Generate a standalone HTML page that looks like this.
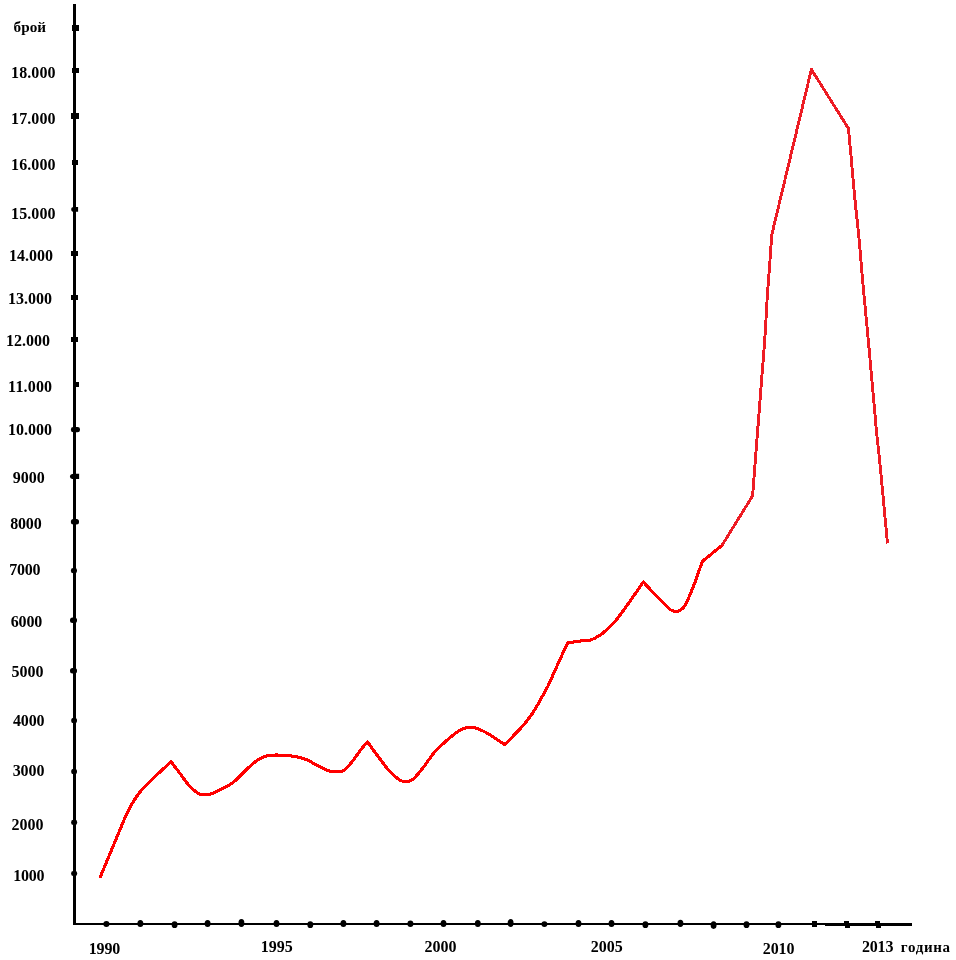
<!DOCTYPE html>
<html lang="bg">
<head>
<meta charset="utf-8">
<title>брой / година</title>
<style>
html,body{margin:0;padding:0;background:#fff;}
body{width:956px;height:960px;overflow:hidden;position:relative;}
svg{position:absolute;left:0;top:0;display:block;}
text{font-family:"Liberation Serif","DejaVu Serif",serif;font-weight:bold;fill:#000;}
</style>
</head>
<body>
<svg width="956" height="960" viewBox="0 0 956 960">
<rect width="956" height="960" fill="#ffffff"/>
<g id="axes" fill="#000" shape-rendering="crispEdges">
<rect x="73" y="4" width="3" height="921"/>
<rect x="73" y="923" width="753" height="2"/>
<rect x="825" y="923" width="87" height="3"/>
</g>
<g id="yticks" fill="#000">
<rect x="72.0" y="25.0" width="7.0" height="6.0" shape-rendering="crispEdges"/>
<rect x="72.2" y="68.2" width="6.6" height="5.0" shape-rendering="crispEdges"/>
<rect x="71.0" y="113.0" width="8.0" height="6.0" shape-rendering="crispEdges"/>
<rect x="72.2" y="160.0" width="5.9" height="5.0" shape-rendering="crispEdges"/>
<path d="M74 207.0H78.1V211.8H74A2.8 2.4 0 0 1 74 207.0Z"/>
<rect x="70.9" y="251.2" width="7.2" height="4.9" shape-rendering="crispEdges"/>
<rect x="70.9" y="295.0" width="7.2" height="5.0" shape-rendering="crispEdges"/>
<rect x="70.9" y="337.0" width="7.2" height="5.0" shape-rendering="crispEdges"/>
<rect x="73.0" y="382.2" width="6.1" height="4.7" shape-rendering="crispEdges"/>
<rect x="70.9" y="426.9" width="9.1" height="5.4" rx="2.4" ry="2.4"/>
<path d="M74 473.8H79.1V479.0H74A4.0 2.6 0 0 1 74 473.8Z"/>
<rect x="70.9" y="518.9" width="8.1" height="5.5" rx="2.5" ry="2.5"/>
<rect x="70.9" y="568.0" width="6.1" height="5.2" rx="2.3" ry="2.3"/>
<rect x="70.0" y="617.6" width="7.0" height="5.5" rx="2.5" ry="2.5"/>
<rect x="70.0" y="667.9" width="7.0" height="5.5" rx="2.5" ry="2.5"/>
<rect x="71.2" y="717.8" width="5.8" height="5.5" rx="2.5" ry="2.5"/>
<rect x="71.2" y="768.8" width="5.8" height="5.5" rx="2.5" ry="2.5"/>
<rect x="71.1" y="819.8" width="6.1" height="5.3" rx="2.4" ry="2.4"/>
<rect x="71.1" y="871.0" width="6.1" height="5.1" rx="2.3" ry="2.3"/>
</g>
<g id="xticks" fill="#000">
<ellipse cx="106.40" cy="924.10" rx="3.05" ry="3.00"/>
<ellipse cx="140.35" cy="923.50" rx="2.95" ry="3.50"/>
<ellipse cx="174.60" cy="924.70" rx="2.95" ry="3.40"/>
<ellipse cx="207.60" cy="923.50" rx="2.95" ry="3.50"/>
<ellipse cx="241.40" cy="923.00" rx="2.95" ry="3.90"/>
<ellipse cx="276.50" cy="923.50" rx="2.95" ry="3.50"/>
<ellipse cx="310.30" cy="924.70" rx="2.95" ry="3.40"/>
<ellipse cx="343.40" cy="923.50" rx="2.95" ry="3.50"/>
<ellipse cx="376.60" cy="923.50" rx="2.95" ry="3.50"/>
<ellipse cx="410.40" cy="923.70" rx="2.95" ry="3.25"/>
<ellipse cx="443.50" cy="923.50" rx="2.95" ry="3.50"/>
<ellipse cx="477.80" cy="923.50" rx="2.95" ry="3.50"/>
<ellipse cx="510.60" cy="923.00" rx="2.95" ry="3.90"/>
<ellipse cx="544.40" cy="924.10" rx="2.95" ry="2.95"/>
<ellipse cx="578.50" cy="923.50" rx="2.95" ry="3.50"/>
<ellipse cx="611.50" cy="923.50" rx="2.95" ry="3.50"/>
<ellipse cx="645.40" cy="924.70" rx="2.95" ry="3.40"/>
<ellipse cx="680.40" cy="923.30" rx="2.95" ry="3.65"/>
<ellipse cx="713.60" cy="925.10" rx="2.95" ry="3.85"/>
<ellipse cx="746.50" cy="924.70" rx="2.95" ry="3.40"/>
<ellipse cx="778.40" cy="924.70" rx="2.95" ry="3.40"/>
<rect x="812.0" y="921.0" width="5.0" height="6.0" shape-rendering="crispEdges"/>
<rect x="844.0" y="921.0" width="5.0" height="2.0" shape-rendering="crispEdges"/>
<rect x="845.0" y="923.0" width="5.0" height="5.0" shape-rendering="crispEdges"/>
<rect x="875.0" y="921.0" width="5.0" height="2.0" shape-rendering="crispEdges"/>
<rect x="876.0" y="923.0" width="5.0" height="5.0" shape-rendering="crispEdges"/>
</g>
<g id="curve" fill="none" stroke-linejoin="miter" stroke-linecap="butt">
<path d="M100.4 876.6C101.1 874.9 102.7 871.2 104.6 866.6C106.5 862.0 109.5 854.9 111.9 849.1C114.3 843.3 116.8 837.4 119.2 831.6C121.6 825.9 124.0 819.7 126.4 814.6C128.8 809.5 131.3 805.0 133.7 801.0C136.1 797.0 138.6 793.7 141.0 790.8C143.4 787.9 145.4 786.4 148.3 783.5C151.2 780.6 154.7 776.9 158.5 773.3C162.3 769.7 168.9 763.7 171.0 761.8C172.3 763.5 176.1 768.3 178.9 772.0C181.7 775.7 185.0 780.7 187.7 783.9C190.4 787.1 193.1 789.5 195.2 791.2C197.3 792.9 197.7 793.7 200.2 794.2C202.7 794.7 206.8 795.0 210.2 794.2C213.5 793.4 216.5 791.5 220.3 789.6C224.1 787.7 228.2 786.3 232.8 782.7C237.4 779.1 243.8 772.0 247.9 768.2C252.0 764.5 254.0 762.3 257.5 760.2C261.0 758.1 264.0 756.3 268.8 755.5C273.6 754.7 280.5 755.0 286.4 755.5C292.3 756.0 298.8 757.0 304.0 758.7C309.2 760.4 313.8 763.8 317.8 765.8C321.8 767.8 325.5 769.6 327.8 770.5C330.1 771.4 329.3 771.1 331.6 771.2C333.9 771.3 339.3 771.6 341.6 771.2C343.9 770.8 343.5 770.7 345.4 769.0C347.3 767.3 350.4 763.9 352.9 760.8C355.4 757.6 358.1 753.3 360.5 750.1C362.9 746.9 366.2 743.2 367.4 741.8C369.1 744.1 374.2 751.3 377.6 755.8C381.0 760.3 384.7 765.5 387.6 769.0C390.5 772.5 392.9 774.5 395.2 776.5C397.5 778.5 398.9 780.2 401.4 780.9C403.9 781.6 407.9 781.5 410.2 780.9C412.5 780.3 412.9 779.5 415.2 777.1C417.5 774.7 420.9 770.6 424.0 766.5C427.1 762.4 431.0 756.5 434.1 752.7C437.2 748.9 439.3 747.1 442.9 743.9C446.4 740.6 452.0 735.8 455.4 733.2C458.8 730.7 460.4 729.6 463.0 728.6C465.6 727.6 468.6 727.3 471.0 727.3C473.4 727.3 475.0 727.8 477.6 728.7C480.2 729.6 483.3 731.0 486.4 732.7C489.5 734.4 493.3 737.0 496.4 739.0C499.5 741.0 503.5 743.7 504.9 744.6C506.4 743.0 511.0 738.3 514.0 735.2C517.0 732.1 520.1 728.9 522.8 725.8C525.5 722.7 528.2 719.2 530.3 716.4C532.4 713.6 533.4 712.0 535.3 708.9C537.2 705.8 539.5 701.4 541.6 697.6C543.7 693.8 545.6 690.9 547.9 686.3C550.1 681.7 552.9 675.2 555.1 670.2C557.4 665.2 559.3 661.0 561.4 656.4C563.5 651.8 566.7 645.1 567.7 642.9C570.2 642.5 579.0 641.2 582.7 640.8C586.4 640.3 587.7 640.8 590.0 640.2C592.3 639.6 594.2 638.5 596.3 637.4C598.4 636.2 600.5 634.9 602.6 633.3C604.7 631.7 606.7 629.7 608.8 627.7C610.9 625.7 613.0 623.8 615.1 621.4C617.2 619.0 619.3 616.0 621.4 613.2C623.5 610.4 625.6 607.3 627.7 604.4C629.8 601.5 631.3 599.3 633.9 595.6C636.5 591.9 641.7 584.3 643.3 582.0C645.1 583.9 650.2 589.5 653.9 593.3C657.5 597.1 662.5 601.9 665.2 604.6C667.9 607.3 668.5 608.5 670.2 609.6C671.9 610.7 673.6 611.2 675.3 611.3C677.0 611.4 678.6 611.2 680.3 610.2C682.0 609.2 683.6 607.9 685.3 605.2C687.0 602.5 688.6 597.9 690.3 593.9C692.0 589.9 693.8 585.6 695.4 581.4C697.0 577.2 698.5 572.2 699.7 568.8C700.9 565.4 702.3 562.3 702.8 561.0L722.0 545.4" stroke="#ff0000" stroke-width="3.1" stroke-linejoin="round" stroke-linecap="round" shape-rendering="crispEdges"/>
<path d="M722.0 545.4L752.6 495.8C753.8 479.9 758.0 426.4 760.0 400.4C762.0 374.4 763.5 357.9 764.7 340.0C766.0 322.1 766.6 306.6 767.5 293.3C768.4 280.0 769.3 269.7 770.0 260.0C770.7 250.3 771.4 239.2 771.7 235.0L811.4 69.4L848.4 128.4C848.8 132.6 849.7 141.4 850.8 153.3C851.9 165.2 853.6 185.6 855.0 200.0C856.4 214.4 858.0 226.8 859.2 240.0C860.5 253.2 860.8 261.0 862.5 279.3C864.2 297.6 866.9 325.0 869.2 350.0C871.5 375.0 874.6 411.0 876.3 429.3C878.0 447.6 877.7 441.0 879.6 460.0C881.5 479.0 886.2 529.6 887.5 543.5" stroke="#ed1c24" stroke-width="2.9" stroke-linejoin="round" shape-rendering="crispEdges"/>
</g>
<g id="labels">
<text id="t0" x="13.58" y="32.00" font-size="15.20" letter-spacing="0.05">брой</text>
<text id="t1" x="11.10" y="78.00" font-size="16.00" letter-spacing="0.08">18.000</text>
<text id="t2" x="11.10" y="124.00" font-size="16.00" letter-spacing="0.08">17.000</text>
<text id="t3" x="11.10" y="170.00" font-size="16.00" letter-spacing="0.08">16.000</text>
<text id="t4" x="11.10" y="219.00" font-size="16.00" letter-spacing="0.08">15.000</text>
<text id="t5" x="9.00" y="261.00" font-size="16.00">14.000</text>
<text id="t6" x="8.10" y="304.00" font-size="16.00">13.000</text>
<text id="t7" x="6.10" y="346.00" font-size="16.00">12.000</text>
<text id="t8" x="8.10" y="392.00" font-size="16.00" letter-spacing="0.18">11.000</text>
<text id="t9" x="8.10" y="435.00" font-size="16.00">10.000</text>
<text id="t10" x="12.80" y="483.00" font-size="16.00">9000</text>
<text id="t11" x="10.20" y="529.00" font-size="16.00" letter-spacing="-0.18">8000</text>
<text id="t12" x="9.35" y="575.00" font-size="16.00" letter-spacing="-0.30">7000</text>
<text id="t13" x="10.80" y="627.00" font-size="16.00" letter-spacing="-0.18">6000</text>
<text id="t14" x="11.60" y="677.00" font-size="16.00">5000</text>
<text id="t15" x="13.05" y="726.00" font-size="16.00" letter-spacing="-0.20">4000</text>
<text id="t16" x="12.65" y="776.00" font-size="16.00" letter-spacing="-0.07">3000</text>
<text id="t17" x="11.50" y="830.00" font-size="16.00">2000</text>
<text id="t18" x="13.30" y="881.00" font-size="16.00" letter-spacing="-0.23">1000</text>
<text id="t19" x="88.65" y="954.00" font-size="16.00" letter-spacing="-0.10">1990</text>
<text id="t20" x="260.65" y="952.00" font-size="16.00">1995</text>
<text id="t21" x="424.50" y="952.00" font-size="16.00">2000</text>
<text id="t22" x="590.70" y="952.00" font-size="16.00">2005</text>
<text id="t23" x="762.70" y="954.00" font-size="16.00" letter-spacing="-0.05">2010</text>
<text id="t24" x="861.90" y="952.00" font-size="16.00" letter-spacing="-0.17">2013</text>
<text id="t25" x="900.83" y="952.00" font-size="15.00" letter-spacing="0.68">година</text>
</g>
</svg>
</body>
</html>
